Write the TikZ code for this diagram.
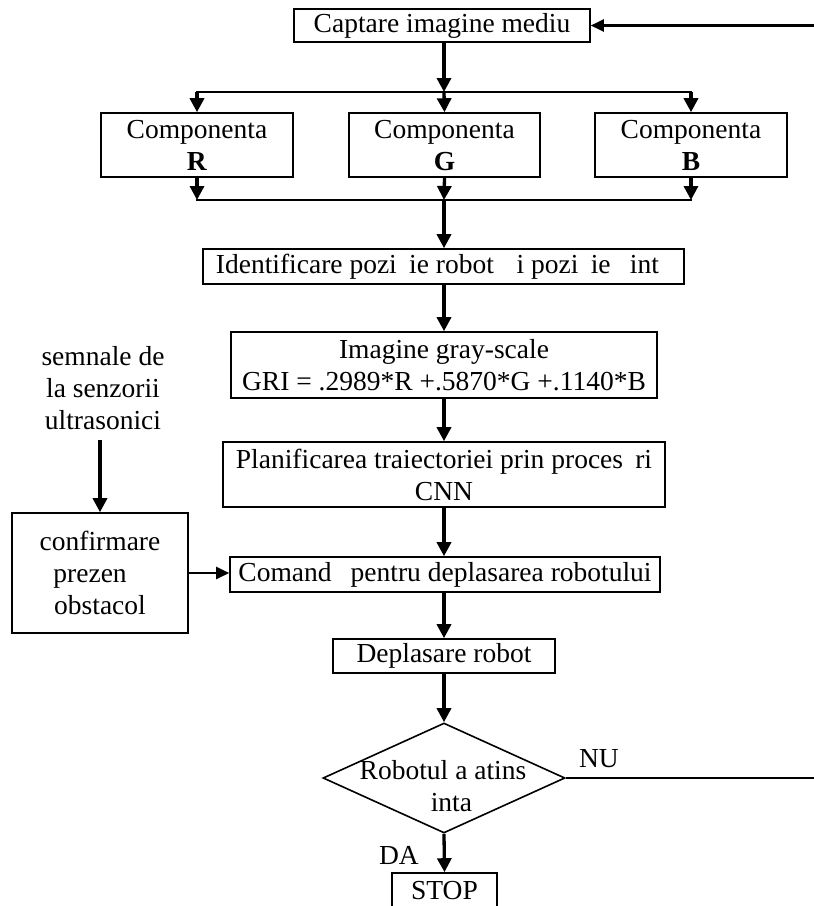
\documentclass[tikz,border=0pt]{standalone}
\usepackage{fontspec}
\setmainfont{Liberation Serif}
\usetikzlibrary{arrows.meta,shapes.geometric}
\newcommand{\flatletter}[1]{\raisebox{0pt}[\height][0pt]{\textbf{#1}}}
\begin{document}
\begin{tikzpicture}[x=1pt,y=-1pt,
  font=\fontsize{27.5}{32}\selectfont,
  box/.style={draw,line width=1.6pt,inner sep=0pt,align=center},
  flow/.style={line width=3.3pt,-{Triangle[length=14pt,width=14pt]}},
  bus/.style={line width=2.3pt,line cap=rect},
  sidearrow/.style={line width=2.3pt,-{Triangle[length=13pt,width=12pt]}},
  lbl/.style={inner sep=0pt,align=center}]
\useasboundingbox (0,0) rectangle (814,906);

% process boxes
\node[box,minimum width=296pt,minimum height=33pt] (cap) at (442,25.5) {Captare imagine mediu};
\node[box,minimum width=192pt,minimum height=64pt] (R) at (197,145) {Componenta\\\flatletter{R}};
\node[box,minimum width=191pt,minimum height=64pt] (G) at (444.5,145) {Componenta\\\flatletter{G}};
\node[box,minimum width=192pt,minimum height=64pt] (B) at (691,145) {Componenta\\\flatletter{B}};
\node[box,minimum width=481pt,minimum height=35pt] (ident) at (443.5,266.5)
  {Identificare pozi\hspace{0.45em}ie robot\hspace{0.82em}i pozi\hspace{0.45em}ie\hspace{0.7em}int\hspace{0.444em}\null};
\node[box,minimum width=426pt,minimum height=66pt] (gray) at (444,365)
  {Imagine gray-scale\\GRI = .2989*R +.5870*G +.1140*B};
\node[box,minimum width=442pt,minimum height=65pt] (plan) at (444,474.5)
  {Planificarea traiectoriei prin proces\hspace{0.444em}ri\\CNN};
\node[box,minimum width=430pt,minimum height=35pt] (cmd) at (445,574.5)
  {Comand\hspace{0.694em}pentru deplasarea robotului};
\node[box,minimum width=222pt,minimum height=34pt] (depl) at (444,656) {Deplasare robot};
\node[draw,line width=1.6pt,shape=diamond,inner sep=0pt,minimum width=242pt,minimum height=110pt] (dia) at (444,778) {};
\node[lbl] (diatext) at (443,786) {Robotul a atins\\\hspace{0.611em}inta};
\node[box,minimum width=105pt,minimum height=36pt] (stop) at (444.5,891) {STOP};

% obstacle branch
\node[lbl] (sens) at (103,388) {semnale de\\la senzorii\\ultrasonici};
\node[box,minimum width=176pt,minimum height=120pt] (conf) at (100,573)
  {confirmare\\prezen\hspace{0.722em}\null\\obstacol};
\coordinate (sensout) at (100,440);

% branch labels
\node[lbl] (nu) at (599,759) {NU};
\node[lbl] (da) at (399,855) {DA};

% split into the three colour components
\coordinate (busT) at (444,92);
\draw[flow] (cap.south -| busT) -- (busT);
\draw[bus] (R.north |- busT) -- (B.north |- busT);
\draw[flow] (R.north |- busT) -- (R.north);
\draw[flow] (busT) -- (G.north);
\draw[flow] (B.north |- busT) -- (B.north);

% merge of the components
\coordinate (busB) at (444,200);
\draw[flow] (R.south) -- (R.south |- busB);
\draw[flow] (G.south) -- (busB);
\draw[flow] (B.south) -- (B.south |- busB);
\draw[bus] (R.south |- busB) -- (B.south |- busB);
\draw[flow] (busB) -- (busB |- ident.north);

% main chain
\draw[flow] (ident.south -| busB) -- (busB |- gray.north);
\draw[flow] (gray.south -| busB) -- (busB |- plan.north);
\draw[flow] (plan.south -| busB) -- (busB |- cmd.north);
\draw[flow] (cmd.south -| busB) -- (busB |- depl.north);
\draw[flow] (depl.south -| busB) -- (dia.north);
\draw[flow] (dia.south) -- (stop.north);

% sensors
\draw[flow] (sensout) -- (conf.north);
\draw[sidearrow] (conf.east) -- (conf.east -| cmd.west);

% loop back when the target is not reached
\coordinate (loopx) at (822,0);
\draw[line width=2.3pt,-{Triangle[length=13pt,width=12pt]}]
  (dia.east) -- (dia.east -| loopx) |- (cap.east);
\end{tikzpicture}
\end{document}
